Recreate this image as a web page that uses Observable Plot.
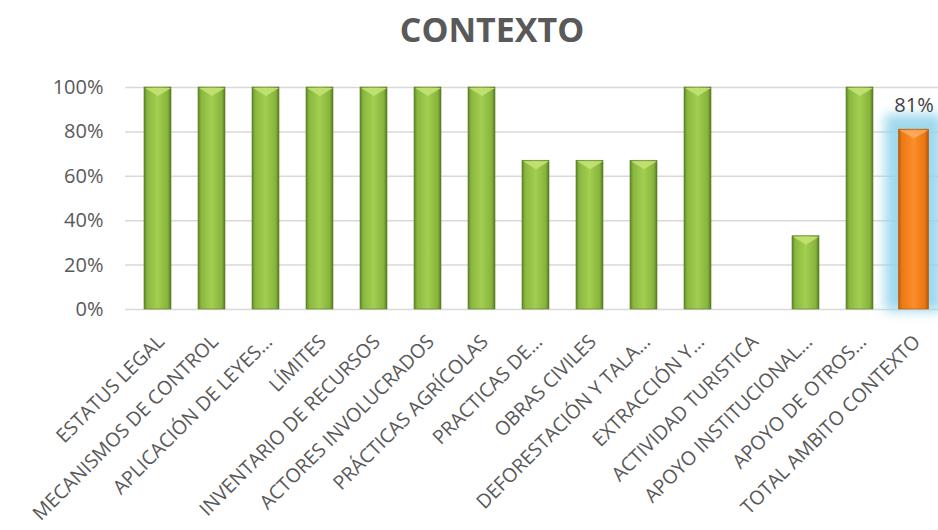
<!DOCTYPE html>
<html>
<head>
<meta charset="utf-8">
<script src="https://cdn.jsdelivr.net/npm/d3@7"></script>
<script src="https://cdn.jsdelivr.net/npm/@observablehq/plot@0.6"></script>
<style>
  html, body { margin: 0; padding: 0; background: #fff; overflow: hidden; width: 938px; height: 530px; }
  #title { width: 938px; height: 60px; box-sizing: border-box; padding-left: 46px; text-align: center;
           font-family: "Open Sans", sans-serif; font-weight: 700; font-size: 34px; color: #595959; line-height: 58px; }
  #chart svg { display: block; overflow: visible; max-width: none !important; }
</style>
</head>
<body>
<div id="title">CONTEXTO</div>
<div id="chart"></div>
<script>
const categories = [
  "ESTATUS LEGAL", "MECANISMOS DE CONTROL", "APLICACIÓN DE LEYES…", "LÍMITES",
  "INVENTARIO DE RECURSOS", "ACTORES INVOLUCRADOS", "PRÁCTICAS AGRÍCOLAS", "PRACTICAS DE…",
  "OBRAS CIVILES", "DEFORESTACIÓN Y TALA…", "EXTRACCIÓN Y…", "ACTIVIDAD TURISTICA",
  "APOYO INSTITUCIONAL…", "APOYO DE OTROS…", "TOTAL AMBITO CONTEXTO"
];
const values = [100, 100, 100, 100, 100, 100, 100, 67, 67, 67, 100, 0, 33, 100, 81];
const isTotal = [false, false, false, false, false, false, false, false, false, false, false, false, false, false, true];
const yTicks = [0, 20, 40, 60, 80, 100];
const totalLabel = "81%";

const data = categories.map((c, i) => ({ cat: c, value: values[i], total: isTotal[i] }));
const totals = data.filter(d => d.total);
const greens = data.filter(d => !d.total);

// flat inverted-triangle bevel symbols (top highlight of each bar)
const bevel = (w, h) => ({ draw(ctx) { ctx.moveTo(-w, 0); ctx.lineTo(w, 0); ctx.lineTo(0, h); ctx.closePath(); } });

const plot = Plot.plot({
  width: 946,
  height: 470,
  marginTop: 27,
  marginBottom: 221,
  marginLeft: 125,
  marginRight: 0,
  style: { fontFamily: "'Open Sans', sans-serif", color: "#595959", background: "transparent" },
  x: { domain: categories, paddingInner: 0.5, paddingOuter: 0.25, label: null },
  y: { domain: [0, 100], label: null },
  marks: [
    Plot.ruleY(yTicks, { stroke: "#d9d9d9", strokeWidth: 1.5 }),
    Plot.barY(totals, { x: "cat", y: "value", fill: "#93d4ec", insetLeft: -15, insetRight: -15, insetTop: -15, insetBottom: -2, fillOpacity: 0.9 }),
    Plot.barY(greens, { x: "cat", y: "value", fill: "url(#gGreen)", stroke: "#5a7a25", strokeWidth: 0.6 }),
    Plot.barY(totals, { x: "cat", y: "value", fill: "url(#gOrange)", stroke: "#b35400", strokeWidth: 0.6, insetLeft: -1.5, insetRight: -1.5 }),
    Plot.dot(greens.filter(d => d.value > 0), { x: "cat", y: "value", symbol: bevel(13, 8), fill: "#c3e273", fillOpacity: 0.9, stroke: "none", dy: 0.5 }),
    Plot.dot(totals, { x: "cat", y: "value", symbol: bevel(14.5, 8), fill: "#ffab5c", fillOpacity: 0.9, stroke: "none", dy: 0.5 }),
    Plot.text(totals, { x: "cat", y: "value", text: () => totalLabel, dy: -24, fontSize: 20, fill: "#404040" }),
    Plot.axisY(yTicks, { tickFormat: d => d + "%", tickSize: 0, tickPadding: 22, fontSize: 20, label: null }),
    Plot.axisX({ tickRotate: -45, tickSize: 0, tickPadding: 29, dx: 3, fontSize: 19.5, label: null })
  ]
});

// gradients and glow
const svg = d3.select(plot);
const defs = svg.insert("defs", ":first-child");
const g1 = defs.append("linearGradient").attr("id", "gGreen").attr("x1", 0).attr("x2", 1).attr("y1", 0).attr("y2", 0);
[[0, "#5f8427"], [0.12, "#8ab83f"], [0.5, "#a2cf50"], [0.88, "#86b33b"], [1, "#567a22"]]
  .forEach(([o, c]) => g1.append("stop").attr("offset", o).attr("stop-color", c));
const g2 = defs.append("linearGradient").attr("id", "gOrange").attr("x1", 0).attr("x2", 1).attr("y1", 0).attr("y2", 0);
[[0, "#c25c05"], [0.12, "#ec7a15"], [0.5, "#fb8d2a"], [0.88, "#ea7612"], [1, "#b85200"]]
  .forEach(([o, c]) => g2.append("stop").attr("offset", o).attr("stop-color", c));
const blur = defs.append("filter").attr("id", "glow").attr("x", "-50%").attr("y", "-50%").attr("width", "200%").attr("height", "200%");
blur.append("feGaussianBlur").attr("stdDeviation", 6);
const barGroups = plot.querySelectorAll('g[aria-label="bar"]');
if (barGroups.length) barGroups[0].setAttribute("filter", "url(#glow)");

document.getElementById("chart").appendChild(plot);
</script>
</body>
</html>
